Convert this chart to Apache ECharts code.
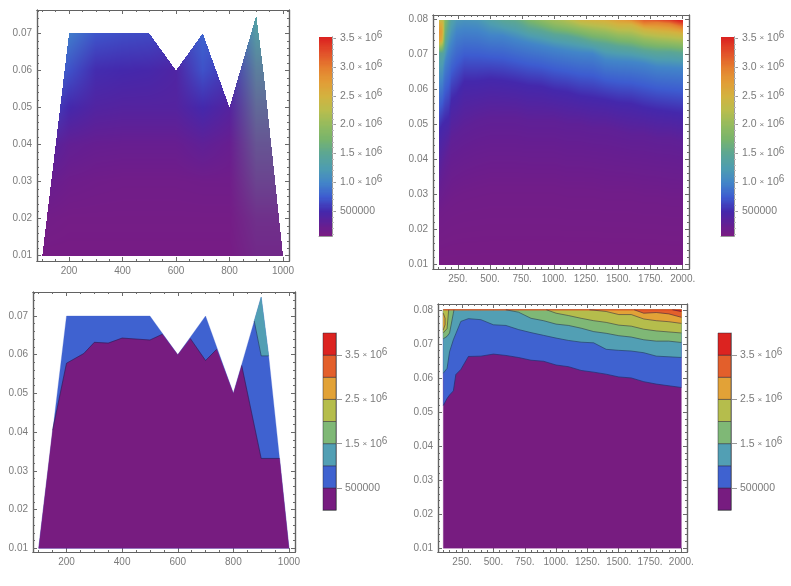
<!DOCTYPE html>
<html><head><meta charset="utf-8">
<style>html,body{margin:0;padding:0;background:#fff}#c{width:791px;height:586px}</style>
<script src="https://cdn.jsdelivr.net/npm/echarts@6/dist/echarts.min.js"></script>
</head><body><div id="c"></div>
<script>
// ---------- values (field values in millions) ----------
const xNodes = [100,130,150,180,200,240,300,400,500,600,700,800,900,1000,1100,1200,1300,1400,1500,1600,1700,1800,1900,2000];
// height (y) at which the field reaches a level; values above 0.08 lie beyond the plotted range
const level015 = [.024,.025,.026,.027,.028,.029,.030,.031,.032,.032,.032,.032,.032,.032,.031,.031,.031,.030,.030,.030,.029,.029,.028,.028];
const level03  = [.034,.038,.040,.043,.046,.047,.049,.051,.052,.052,.052,.051,.051,.051,.050,.050,.049,.049,.048,.047,.047,.046,.046,.045];
const level05  = [.0519,.0540,.0550,.0562,.0610,.0625,.0663,.0664,.0670,.0666,.0660,.0652,.0649,.0638,.0633,.0622,.0617,.0611,.0603,.0600,.0589,.0582,.0577,.0572];
const level10  = [.0614,.0628,.0677,.0712,.0730,.0766,.0774,.0771,.0756,.0754,.0742,.0733,.0725,.0717,.0710,.0705,.0703,.0684,.0681,.0679,.0674,.0664,.0662,.0660];
const level15  = [.0715,.0722,.0732,.0790,.0830,.0850,.0860,.0850,.0820,.0800,.0793,.0775,.0768,.0758,.0754,.0746,.0736,.0731,.0724,.0720,.0712,.0708,.0708,.0704];
const level20  = [.0732,.0745,.0830,.0880,.0900,.0950,.0950,.0950,.0900,.0870,.0850,.0820,.0803,.0790,.0783,.0775,.0768,.0763,.0755,.0752,.0743,.0738,.0735,.0732];
const level25  = [.0860,.0860,.0900,.0950,.0980,.1000,.1050,.1050,.1000,.0970,.0940,.0900,.0870,.0850,.0820,.0802,.0799,.0795,.0786,.0786,.0773,.0768,.0765,.0760];
const level30  = [.1200,.1200,.1200,.1200,.1200,.1200,.1200,.1200,.1150,.1100,.1050,.1020,.1000,.1000,.0950,.0900,.0860,.0830,.0815,.0803,.0790,.0792,.0788,.0778];
const level35  = [.1400,.1400,.1400,.1400,.1400,.1400,.1400,.1350,.1300,.1250,.1200,.1150,.1100,.1100,.1050,.1000,.0980,.0960,.0900,.0850,.0815,.0805,.0802,.0795];
const levelValues = [.15,.3,.5,1,1.5,2,2.5,3,3.5];
const hotY = [.0705,.0741,.0765,.0790,.0800];
const hotV = [1.5,2.7,2.85,2.6,2.3];
const hotBand = [[100,.0741],[114,.0756],[114,.0775],[100,.0790]];

const sparseDomain = [[100,.01],[200,.07],[500,.07],[600,.06],[700,.07],[800,.05],[900,.0749],[927,.0597],[966,.0332],[1000,.01]];
const sparseX = [100,200,300,400,500,600,700,800,900,1000];
const sparseY = [.01,.02,.03,.04,.05,.06,.07,.075];
const sparse01 = [.10,.10,.10,.10,.10,.10,.10,.10,.12,.12];
const sparse02 = [.14,.12,.12,.12,.12,.12,.12,.12,.20,.20];
const sparse03 = [.25,.18,.16,.15,.15,.15,.16,.16,.40,.40];
const sparse04 = [.40,.28,.25,.24,.24,.24,.30,.24,.57,.57];
const sparse05 = [.70,.50,.40,.38,.38,.38,.50,.38,.78,.78];
const sparse06 = [1.0,.70,.52,.50,.48,.42,.70,.55,1.0,1.0];
const sparse07 = [1.0,.95,.72,.68,.66,.60,.80,.70,1.28,1.28];
const sparse075= [1.0,.95,.72,.68,.66,.60,.80,.70,1.35,1.35];
const sparseRows = [sparse01,sparse02,sparse03,sparse04,sparse05,sparse06,sparse07,sparse075];

const purpleRegion = [[100,.01],[150,.0405],[200,.0578],[262,.0603],[300,.0632],[350,.063],[400,.0643],[500,.0638],[545,.0653],[600,.06],[645,.0642],[700,.0585],[740,.0614],[800,.05],[830,.0572],[900,.0332],[966,.0332],[1000,.01]];
const tealRegion = [[875,.0687],[900,.0749],[927,.0597],[900,.0597]];
const contourA = [[150,.0405],[200,.0578],[262,.0603],[300,.0632],[350,.063],[400,.0643],[500,.0638],[545,.0653]];
const contourB = [[645,.0642],[700,.0585],[740,.0614]];
const contourC = [[830,.0572],[900,.0332],[966,.0332]];
const contourD = [[875,.0687],[900,.0597],[927,.0597]];

// ---------- tick labels ----------
const xTicks1000 = [200,400,600,800,1000];
const xTicks2000 = [250,500,750,1000,1250,1500,1750,2000];
const yTicks70 = [.01,.02,.03,.04,.05,.06,.07];
const yTicks80 = [.01,.02,.03,.04,.05,.06,.07,.08];
const barTicksFine = [.5,1,1.5,2,2.5,3,3.5];
const barTicksBand = [.5,1.5,2.5,3.5];
const barLabels = {.5:'500000',1:'1.0 {x|×} 10{s|6}',1.5:'1.5 {x|×} 10{s|6}',2:'2.0 {x|×} 10{s|6}',2.5:'2.5 {x|×} 10{s|6}',3:'3.0 {x|×} 10{s|6}',3.5:'3.5 {x|×} 10{s|6}'};
const bandEdges = [0,.5,1,1.5,2,2.5,3,3.5,4];

// ---------- styles ----------
const bandColors = ['#771c80','#3f62d0','#529fb4','#7fb876','#b5bd4c','#e2a237','#e35f2b','#dc2320'];
const rampV = [.067,.25,.5,.75,1,1.25,1.5,1.75,2,2.25,2.5,2.75,3,3.25,3.52];
const rampC = [[122,28,130],[102,30,145],[68,40,172],[61,92,208],[66,133,200],[78,157,176],[91,166,148],[120,180,108],[148,187,94],[185,189,77],[211,178,63],[226,156,54],[229,126,47],[226,81,42],[219,34,32]];
const FONT = '"Liberation Sans"', GREY = '#7b7b7b', FRAME = '#626262', TICK = '#6a6a6a';

function ramp(v){
  if(v<=rampV[0]) return rampC[0].slice();
  for(let i=1;i<rampV.length;i++) if(v<=rampV[i]){
    const t=(v-rampV[i-1])/(rampV[i]-rampV[i-1]);
    return rampC[i].map((c,k)=>rampC[i-1][k]+(c-rampC[i-1][k])*t);
  }
  return rampC[rampC.length-1].slice();
}
const css=c=>`rgb(${Math.round(c[0])},${Math.round(c[1])},${Math.round(c[2])})`;
function lerp1(xs,ys,x){
  if(x<=xs[0]) return ys[0];
  for(let i=1;i<xs.length;i++) if(x<=xs[i]) return ys[i-1]+(ys[i]-ys[i-1])*(x-xs[i-1])/(xs[i]-xs[i-1]);
  return ys[ys.length-1];
}
const allLevels=[level015,level03,level05,level10,level15,level20,level25,level30,level35];
// the density panel reads about 0.004 lower at the 500000 level than the contour panel draws it
function denseColor(x,y){
  const hs=[.01],vs=[.09];
  allLevels.forEach((l,i)=>{hs.push(lerp1(xNodes,l,x)-(levelValues[i]===.5?.004:0));vs.push(levelValues[i]);});
  let v=lerp1(hs,vs,y);
  if(x<150&&y>=hotY[0]) v=lerp1([100,125,150],[lerp1(hotY,hotV,y),lerp1(hotY,hotV,y)*.8+v*.2,v],x);
  return ramp(v);
}
// the two right-hand columns blend straight between the bottom and top colours
function nodeColor(j,i){
  const v=sparseRows[j][i];
  if(i<8) return ramp(v);
  const lo=ramp(.12),hi=ramp(1.35),t=v/1.35;
  return lo.map((c,k)=>c+(hi[k]-c)*t);
}
function sparseColor(x,y){
  let i=0;while(i<sparseX.length-2&&x>sparseX[i+1])i++;
  let j=0;while(j<sparseY.length-2&&y>sparseY[j+1])j++;
  const tx=Math.min(1,Math.max(0,(x-sparseX[i])/(sparseX[i+1]-sparseX[i])));
  const ty=Math.min(1,Math.max(0,(y-sparseY[j])/(sparseY[j+1]-sparseY[j])));
  const a=nodeColor(j,i),b=nodeColor(j,i+1),c=nodeColor(j+1,i),d=nodeColor(j+1,i+1);
  return a.map((_,k)=>(a[k]*(1-tx)+b[k]*tx)*(1-ty)+(c[k]*(1-tx)+d[k]*tx)*ty);
}
function inDomain(x,y){
  let r=false;const p=sparseDomain;
  for(let i=0,j=p.length-1;i<p.length;j=i++){
    if((p[i][1]>y)!==(p[j][1]>y)&&x<(p[j][0]-p[i][0])*(y-p[i][1])/(p[j][1]-p[i][1])+p[i][0]) r=!r;
  }
  return r;
}
const seq=(a,b,s)=>{const o=[];const n=Math.round((b-a)/s);for(let i=0;i<=n;i++)o.push(+(a+i*s).toFixed(5));return o;};

const grids=[],xAxes=[],yAxes=[],series=[];
function axis(pos,min,max,gi,ticks,len,labels,fmt){
  return {type:'value',gridIndex:gi,position:pos,min,max,scale:true,
    splitLine:{show:false},
    axisLine:{show:true,onZero:false,lineStyle:{color:FRAME,width:1.2}},
    axisTick:{show:true,inside:true,length:len,customValues:ticks,lineStyle:{color:TICK,width:1}},
    axisLabel:labels?{show:true,customValues:ticks,formatter:fmt,fontFamily:FONT,fontSize:10,color:GREY,margin:5,hideOverlap:false}:{show:false}
  };
}
function panel(box,xr,yr,xMajor,xMinor,yMajor,yMinor,xFmt,yFmt){
  const gi=grids.length;
  grids.push({left:box[0],top:box[1],width:box[2],height:box[3],containLabel:false});
  const xi=xAxes.length,yi=yAxes.length;
  xAxes.push(axis('bottom',xr[0],xr[1],gi,xMajor,4,true,xFmt),axis('top',xr[0],xr[1],gi,xMajor,4,false),
             axis('bottom',xr[0],xr[1],gi,xMinor,2,false),axis('top',xr[0],xr[1],gi,xMinor,2,false));
  yAxes.push(axis('left',yr[0],yr[1],gi,yMajor,4,true,yFmt),axis('right',yr[0],yr[1],gi,yMajor,4,false),
             axis('left',yr[0],yr[1],gi,yMinor,2,false),axis('right',yr[0],yr[1],gi,yMinor,2,false));
  return [xi,yi];
}
function bar(box,lo,hi,ticks,minor,tickLen,margin){
  const gi=grids.length;
  grids.push({left:box[0],top:box[1],width:box[2],height:box[3]});
  const xi=xAxes.length,yi=yAxes.length;
  const line={show:true,onZero:false,lineStyle:{color:'#9a9a9a',width:1}};
  xAxes.push({type:'value',gridIndex:gi,min:0,max:1,position:'bottom',axisLine:line,axisTick:{show:false},axisLabel:{show:false},splitLine:{show:false}});
  const rich={
    s:{fontSize:10,fontFamily:FONT,color:GREY,verticalAlign:'top',padding:[0,0,5,0]},
    x:{fontSize:8,fontFamily:FONT,color:GREY}
  };
  yAxes.push({type:'value',gridIndex:gi,position:'right',min:lo,max:hi,scale:true,splitLine:{show:false},axisLine:line,
    axisTick:{show:true,inside:false,length:tickLen,customValues:ticks,lineStyle:{color:'#9a9a9a',width:1}},
    axisLabel:{show:true,customValues:ticks,margin,fontFamily:FONT,fontSize:10.5,color:GREY,rich,formatter:v=>barLabels[+v.toFixed(1)]||''}});
  if(minor) yAxes.push({type:'value',gridIndex:gi,position:'right',min:lo,max:hi,scale:true,splitLine:{show:false},axisLine:line,
    axisTick:{show:true,inside:false,length:2,customValues:minor,lineStyle:{color:'#bdbdbd',width:1}},axisLabel:{show:false}});
  return [xi,yi];
}
function mesh(ax,xr,yr,colorAt,test,step){
  series.push({type:'custom',xAxisIndex:ax[0],yAxisIndex:ax[1],silent:true,animation:false,clip:false,
    data:[[xr[0],yr[0]]],
    renderItem(params,api){
      const p0=api.coord([xr[0],yr[0]]),p1=api.coord([xr[1],yr[1]]);
      const kids=[];
      const L=Math.round(p0[0]),R=Math.round(p1[0]),B=Math.round(p0[1]),T=Math.round(p1[1]);
      for(let px=L;px<R;px+=step)for(let py=T;py<B;py+=step){
        const x=xr[0]+(px+step/2-p0[0])/(p1[0]-p0[0])*(xr[1]-xr[0]);
        const y=yr[0]+(py+step/2-p0[1])/(p1[1]-p0[1])*(yr[1]-yr[0]);
        if(test&&!test(x,y)) continue;
        kids.push({type:'rect',shape:{x:px,y:py,width:Math.min(step,R-px),height:Math.min(step,B-py)},style:{fill:css(colorAt(x,y))}});
      }
      return {type:'group',children:kids};
    }});
}
function polygons(ax,list){
  series.push({type:'custom',xAxisIndex:ax[0],yAxisIndex:ax[1],silent:true,animation:false,clip:false,
    data:list.map((_,i)=>[i]),
    renderItem(params,api){
      const it=list[params.dataIndex];
      return {type:'polygon',shape:{points:it.pts.map(p=>api.coord(p))},style:{fill:it.fill,stroke:it.fill,lineWidth:.3}};
    }});
}
function contour(ax,pts){
  series.push({type:'line',xAxisIndex:ax[0],yAxisIndex:ax[1],data:pts,showSymbol:false,silent:true,animation:false,clip:false,connectNulls:false,
    lineStyle:{color:'rgba(22,28,70,.6)',width:.8}});
}
function clampCurve(xs,ys,lim){
  const out=[];
  for(let i=0;i<xs.length;i++){
    if(i>0&&(ys[i]>lim)!==(ys[i-1]>lim)){
      const t=(lim-ys[i-1])/(ys[i]-ys[i-1]);
      out.push([xs[i-1]+(xs[i]-xs[i-1])*t,lim,true]);
    }
    out.push([xs[i],Math.min(ys[i],lim),ys[i]>lim]);
  }
  return out;
}
function barFill(ax,lo,hi){
  const vals=seq(lo,hi,.02);
  series.push({type:'custom',xAxisIndex:ax[0],yAxisIndex:ax[1],silent:true,animation:false,clip:true,
    data:vals.map(v=>[0,v]),
    renderItem(params,api){
      const v=api.value(1),a=api.coord([0,v]),b=api.coord([1,v+.02]);
      return {type:'rect',shape:{x:a[0],y:Math.floor(b[1]),width:b[0]-a[0],height:Math.ceil(a[1])-Math.floor(b[1])},style:{fill:css(ramp(v+.01))}};
    }});
}
function barBands(ax){
  series.push({type:'custom',xAxisIndex:ax[0],yAxisIndex:ax[1],silent:true,animation:false,clip:false,
    data:bandColors.map((c,i)=>[i,bandEdges[i],bandEdges[i+1]]),
    renderItem(params,api){
      const i=params.dataIndex,a=api.coord([0,bandEdges[i]]),b=api.coord([1,bandEdges[i+1]]);
      return {type:'rect',shape:{x:a[0],y:b[1],width:b[0]-a[0],height:a[1]-b[1]},
        style:{fill:bandColors[i],stroke:'rgba(30,30,50,.45)',lineWidth:1}};
    }});
}
const f0=v=>String(v), fd=v=>v+'.', fy=v=>v.toFixed(2);

// panel 1: sparse density
let ax=panel([37,10,252,251],[80.2,1022.4],[.00857,.0763],xTicks1000,seq(100,1000,50),yTicks70,seq(.01,.076,.002),f0,fy);
mesh(ax,[100,1000],[.01,.075],sparseColor,inDomain,1);
let bx=bar([319,37,13,199],.067,3.52,barTicksFine,seq(.1,3.5,.1),4,8);
barFill(bx,.067,3.5);

// panel 2: dense density
ax=panel([433,15,256,254],[56,2049],[.00878,.0813],xTicks2000,seq(100,2000,50),yTicks80,seq(.01,.08,.002),fd,fy);
mesh(ax,[100,2000],[.01,.08],denseColor,null,1);
bx=bar([721,37,13,199],.067,3.52,barTicksFine,seq(.1,3.5,.1),4,8);
barFill(bx,.067,3.5);

// panel 3: sparse contours
ax=panel([33,292,262,260],[79.5,1021.6],[.00904,.0762],xTicks1000,seq(100,1000,50),yTicks70,seq(.01,.076,.002),f0,fy);
polygons(ax,[{pts:sparseDomain,fill:bandColors[1]},{pts:tealRegion,fill:bandColors[2]},{pts:purpleRegion,fill:bandColors[0]}]);
[contourA,contourB,contourC,contourD].forEach(c=>contour(ax,c));
bx=bar([323,333,13,177],0,4,barTicksBand,null,6,9);
barBands(bx);

// panel 4: dense contours
ax=panel([438,304,249,248],[57.6,2045],[.00891,.0817],xTicks2000,seq(100,2000,50),yTicks80,seq(.01,.08,.002),fd,fy);
const plotTop=.08;
const regions=[{pts:[[100,.01],[2000,.01],[2000,plotTop],[100,plotTop]],fill:bandColors[0]}];
[level05,level10,level15,level20,level25,level30,level35].forEach((l,i)=>{
  const c=clampCurve(xNodes,l,plotTop).map(p=>[p[0],p[1]]);
  regions.push({pts:c.concat([[2000,plotTop],[100,plotTop]]),fill:bandColors[i+1]});
});
regions.push({pts:hotBand,fill:bandColors[5]});
polygons(ax,regions);
[level05,level10,level15,level20,level25,level30,level35].forEach(l=>{
  const c=clampCurve(xNodes,l,plotTop);
  const pts=c.map((p,i)=>{
    const nextAbove=c[i+1]?c[i+1][2]:true, prevAbove=i>0?c[i-1][2]:true;
    return (p[2]&&nextAbove&&prevAbove)?[p[0],'-']:[p[0],p[1]];
  });
  contour(ax,pts);
});
contour(ax,hotBand);
bx=bar([718,333,13,177],0,4,barTicksBand,null,6,9);
barBands(bx);

const chart=echarts.init(document.getElementById('c'),null,{renderer:'canvas'});
chart.setOption({backgroundColor:'#fff',animation:false,grid:grids,xAxis:xAxes,yAxis:yAxes,series});
</script></body></html>
